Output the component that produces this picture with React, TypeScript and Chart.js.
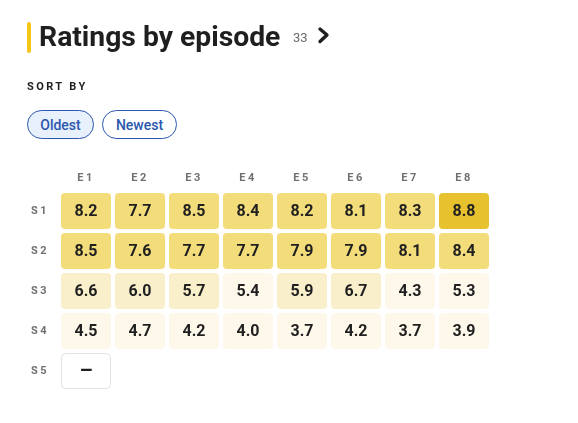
import React, { useEffect, useRef } from "react";
import { Chart, registerables } from "chart.js";

Chart.register(...registerables);

const episodes = ["E1", "E2", "E3", "E4", "E5", "E6", "E7", "E8"];
const seasons = ["S1", "S2", "S3", "S4", "S5"];
const season1 = [8.2, 7.7, 8.5, 8.4, 8.2, 8.1, 8.3, 8.8];
const season2 = [8.5, 7.6, 7.7, 7.7, 7.9, 7.9, 8.1, 8.4];
const season3 = [6.6, 6.0, 5.7, 5.4, 5.9, 6.7, 4.3, 5.3];
const season4 = [4.5, 4.7, 4.2, 4.0, 3.7, 4.2, 3.7, 3.9];
const season5: (number | null)[] = [null];
const seasonValues = [season1, season2, season3, season4, season5];
const episodeCount = 33;

function colorFor(v: number | null) {
  if (v == null) return "#ffffff";
  if (v >= 8.6) return "#E8C22E";
  if (v >= 7.5) return "#F3DC7A";
  if (v >= 5.5) return "#F9EFCB";
  return "#FDF8EA";
}

const spacingPlugin = {
  id: "spacing",
  beforeDraw(chart: any) {
    (chart.ctx as any).letterSpacing = "2.5px";
  },
  beforeDatasetsDraw(chart: any) {
    (chart.ctx as any).letterSpacing = "0px";
  },
};

const cellPlugin = {
  id: "cells",
  afterDatasetsDraw(chart: any) {
    const ctx = chart.ctx;
    const xs = chart.scales.x;
    const ys = chart.scales.y;
    const cw = xs.width / episodes.length - 4;
    const ch = ys.height / seasons.length - 4;
    chart.data.datasets.forEach((ds: any, di: number) => {
      const meta = chart.getDatasetMeta(di);
      meta.data.forEach((pt: any, i: number) => {
        const raw = ds.data[i];
        const x = pt.x;
        const y = pt.y;
        ctx.save();
        ctx.beginPath();
        ctx.textAlign = "center";
        ctx.textBaseline = "middle";
        if (raw.v == null) {
          ctx.roundRect(x - cw / 2 + 0.5, y - ch / 2 + 0.5, cw - 1, ch - 1, 4);
          ctx.fillStyle = "#ffffff";
          ctx.fill();
          ctx.strokeStyle = "#e2e2e2";
          ctx.lineWidth = 1;
          ctx.stroke();
          ctx.fillStyle = "#1f1f1f";
          ctx.font = "bold 21px Roboto";
          ctx.fillText("–", x, y + 1);
        } else {
          ctx.roundRect(x - cw / 2, y - ch / 2, cw, ch, 4);
          ctx.fillStyle = colorFor(raw.v);
          ctx.fill();
          ctx.fillStyle = "#1f1f1f";
          ctx.font = "bold 16px Roboto";
          ctx.fillText(raw.v.toFixed(1), x, y + 1);
        }
        ctx.restore();
      });
    });
  },
};

function Heatmap() {
  const ref = useRef<HTMLCanvasElement>(null);
  useEffect(() => {
    const points: any[] = [];
    seasonValues.forEach((row, si) => {
      row.forEach((v, ei) => {
        points.push({ x: episodes[ei], y: seasons[si], v });
      });
    });
    const chart = new Chart(ref.current!, {
      type: "scatter",
      data: {
        datasets: [
          {
            data: points,
            pointRadius: 0,
            pointHoverRadius: 0,
          },
        ],
      },
      options: {
        animation: false,
        responsive: false,
        events: [],
        layout: { padding: { left: 24, right: 87, top: 160, bottom: 32 } },
        plugins: { legend: { display: false }, tooltip: { enabled: false } },
        scales: {
          x: {
            type: "category",
            labels: episodes,
            position: "top",
            offset: true,
            grid: { display: false, drawTicks: false },
            border: { display: false },
            ticks: {
              color: "#707070",
              padding: 6,
              font: { family: "Roboto", size: 11, weight: "bold" },
            },
            afterFit: (s: any) => {
              s.height = 31;
            },
          },
          y: {
            type: "category",
            labels: seasons,
            offset: true,
            grid: { display: false, drawTicks: false },
            border: { display: false },
            ticks: {
              color: "#707070",
              padding: 10,
              font: { family: "Roboto", size: 11, weight: "bold" },
            },
            afterFit: (s: any) => {
              s.width = 35;
            },
          },
        },
      } as any,
      plugins: [spacingPlugin, cellPlugin],
    });
    return () => chart.destroy();
  }, []);
  return (
    <canvas
      ref={ref}
      width={578}
      height={423}
      style={{ position: "absolute", left: 0, top: 0, width: 578, height: 423 }}
    />
  );
}

export default function App() {
  const btn: React.CSSProperties = {
    position: "absolute",
    top: 110,
    height: 29,
    boxSizing: "border-box",
    border: "1px solid #2b57ad",
    borderRadius: 15,
    color: "#2b57ad",
    fontSize: 14,
    fontWeight: 500,
    display: "flex",
    alignItems: "center",
    justifyContent: "center",
  };
  return (
    <div
      style={{
        position: "fixed",
        left: 0,
        top: 0,
        width: 578,
        height: 423,
        background: "#fff",
        fontFamily: "Roboto, sans-serif",
        overflow: "hidden",
      }}
    >
      <Heatmap />
      <div
        style={{
          position: "absolute",
          left: 27,
          top: 22,
          width: 4,
          height: 31,
          borderRadius: 2,
          background: "#F5C518",
        }}
      />
      <div
        style={{
          position: "absolute",
          left: 39,
          top: 21,
          fontSize: 28.3,
          lineHeight: "32px",
          fontWeight: 700,
          color: "#1f1f1f",
          whiteSpace: "nowrap",
        }}
      >
        Ratings by episode
      </div>
      <div
        style={{
          position: "absolute",
          left: 293,
          top: 30,
          fontSize: 13,
          lineHeight: "15px",
          color: "#6b6b6b",
        }}
      >
        {episodeCount}
      </div>
      <svg
        style={{ position: "absolute", left: 314, top: 24, width: 20, height: 22 }}
        viewBox="0 0 20 22"
      >
        <polyline
          points="6,5 13,11 6,17.5"
          fill="none"
          stroke="#1f1f1f"
          strokeWidth={3.4}
          strokeLinecap="round"
          strokeLinejoin="round"
        />
      </svg>
      <div
        style={{
          position: "absolute",
          left: 27,
          top: 80,
          fontSize: 11,
          lineHeight: "14px",
          fontWeight: 700,
          letterSpacing: "2.4px",
          color: "#1f1f1f",
        }}
      >
        SORT BY
      </div>
      <div style={{ ...btn, left: 27, width: 67, background: "#E8F0FB" }}>Oldest</div>
      <div style={{ ...btn, left: 102, width: 75, background: "#fff" }}>Newest</div>
    </div>
  );
}
